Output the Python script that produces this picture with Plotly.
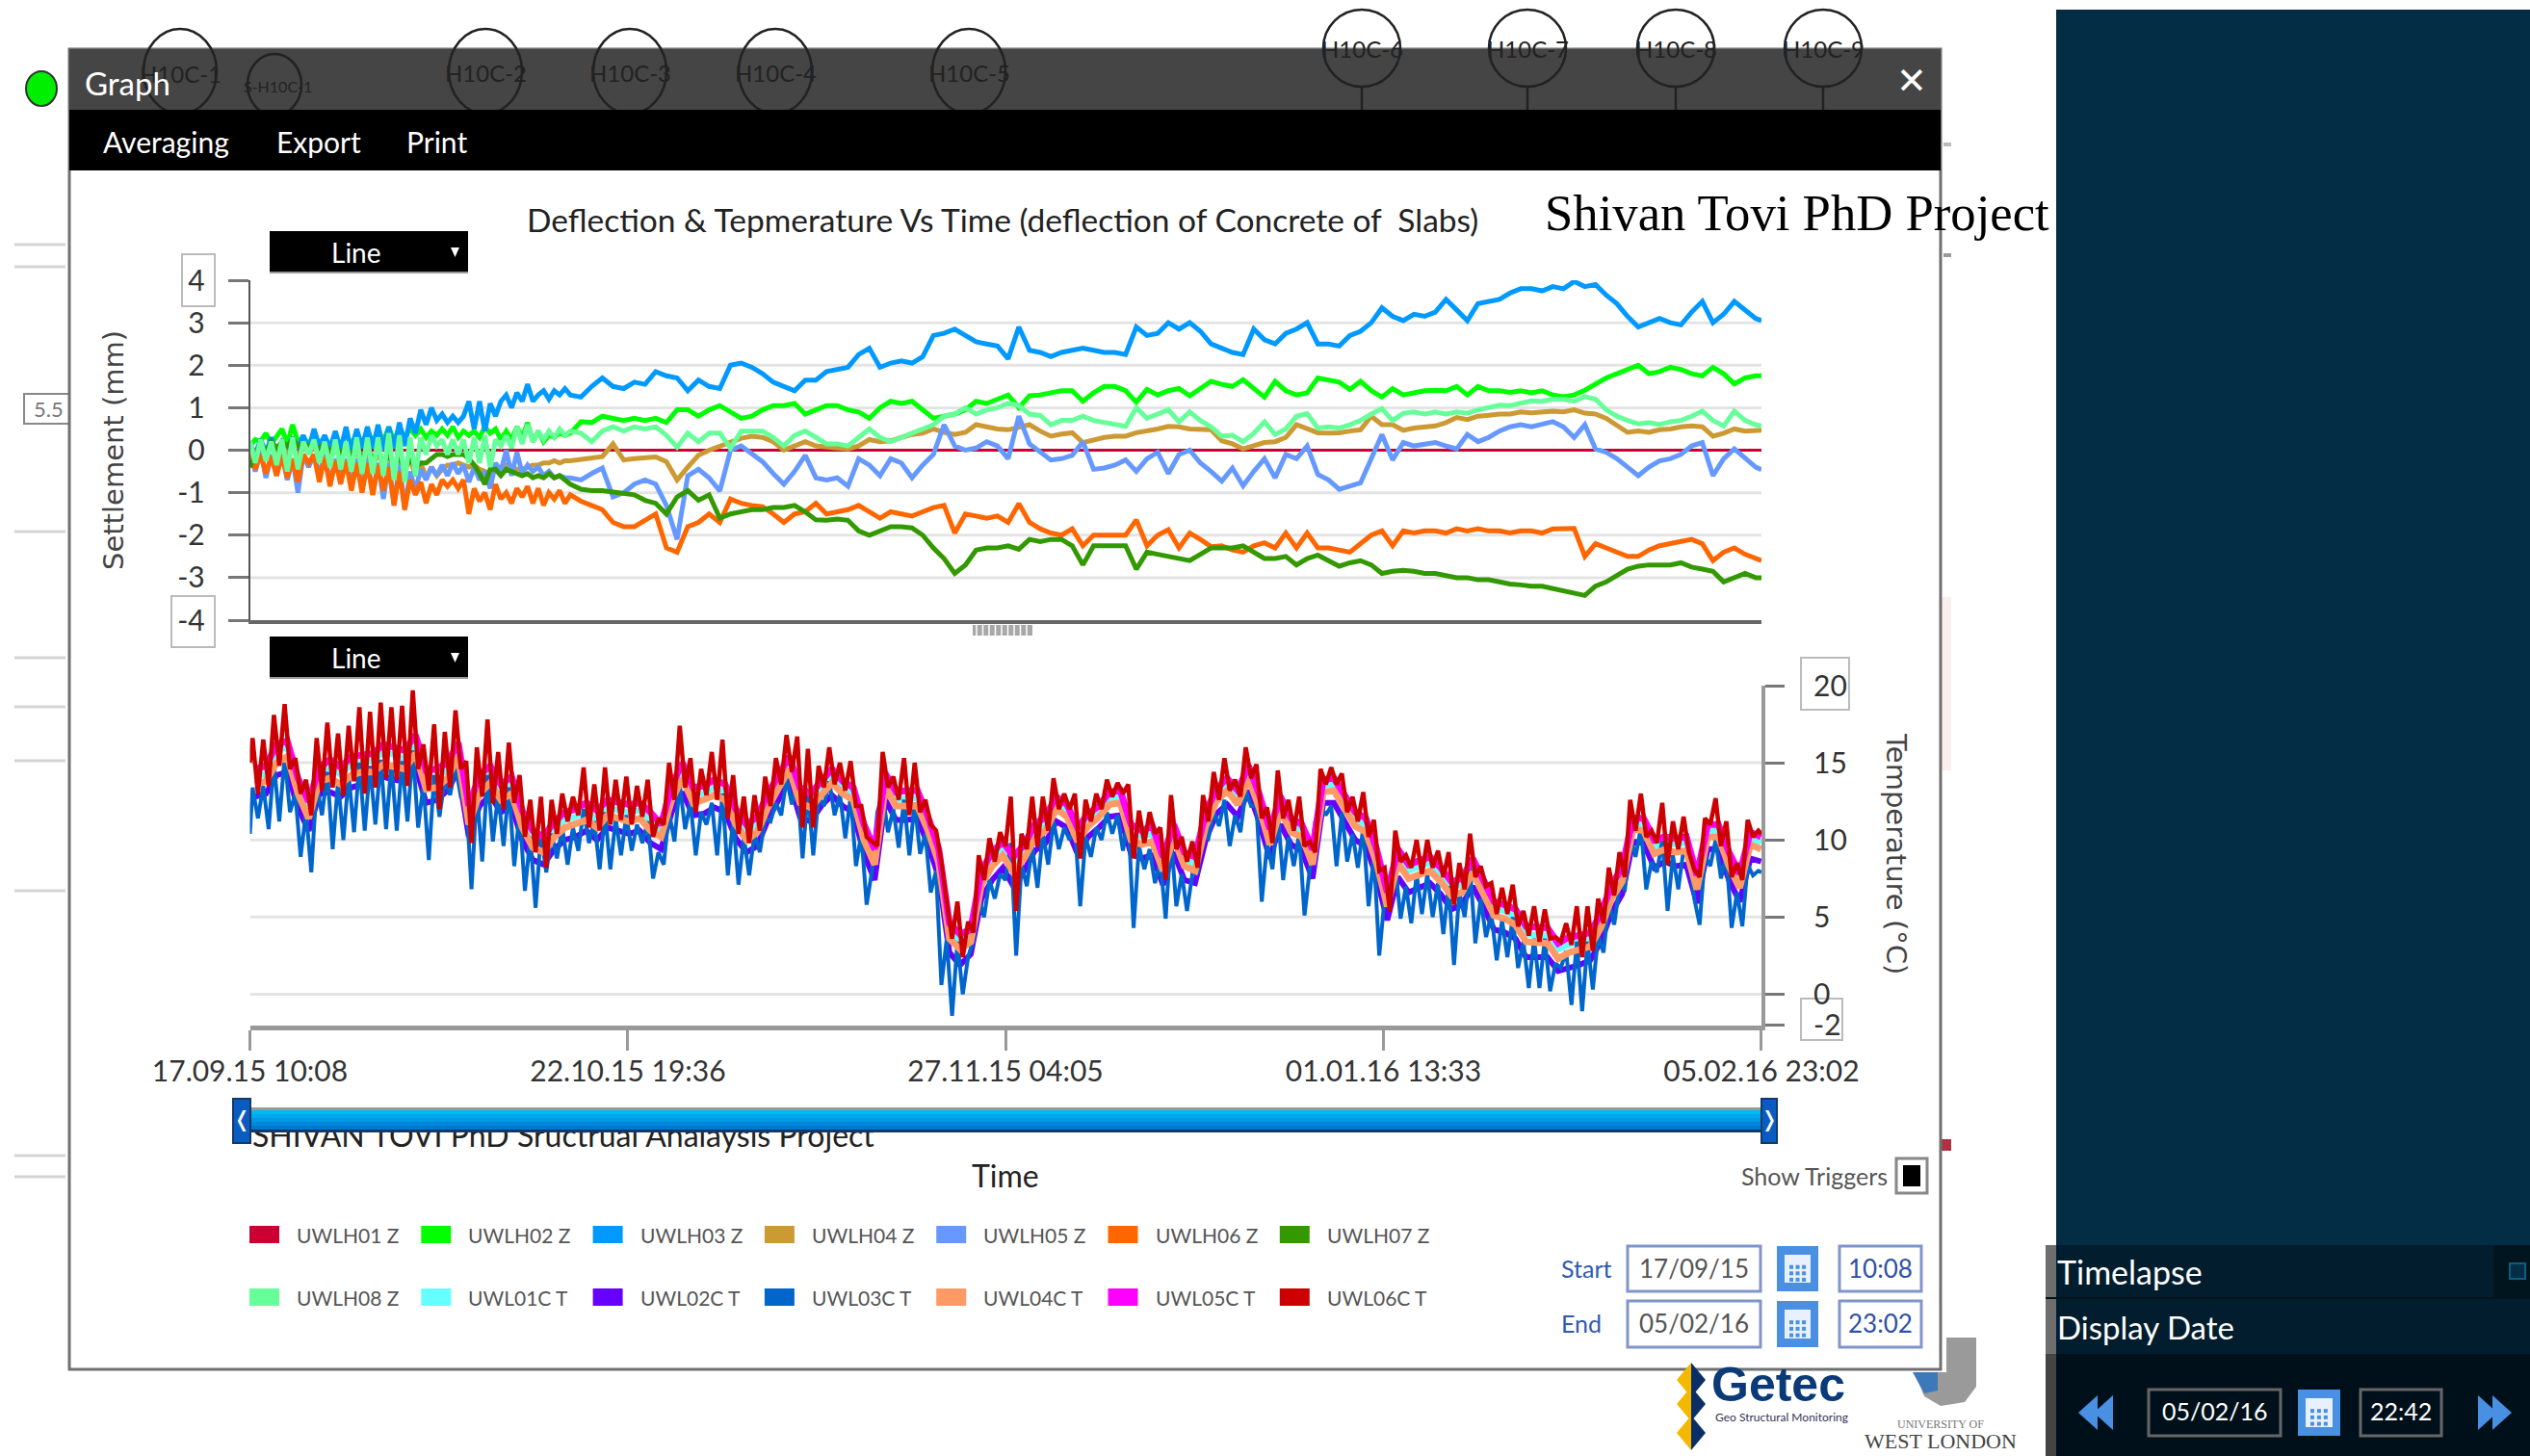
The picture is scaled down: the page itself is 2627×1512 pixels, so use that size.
import pandas as pd
import plotly.graph_objects as go

W, H = 2627, 1512
UI = "Lato, Open Sans, sans-serif"
WIDE = "DejaVu Sans, sans-serif"
SERIF = "Liberation Serif, serif"

start_time = pd.Timestamp("2015-09-17 10:08")
end_days = 141.54

x_tick_labels = ["17.09.15 10:08", "22.10.15 19:36", "27.11.15 04:05", "01.01.16 13:33", "05.02.16 23:02"]
settle_ticks = [-4, -3, -2, -1, 0, 1, 2, 3, 4]
settle_labels = ["-4", "-3", "-2", "-1", "0", "1", "2", "3", "4"]
settle_grid = [-3, -2, -1, 1, 2, 3]
temp_ticks = [-2, 0, 5, 10, 15, 20]
temp_labels = ["-2", "0", "5", "10", "15", "20"]
temp_grid = [0, 5, 10, 15]

names = ["UWLH01 Z", "UWLH02 Z", "UWLH03 Z", "UWLH04 Z", "UWLH05 Z", "UWLH06 Z", "UWLH07 Z",
         "UWLH08 Z", "UWL01C T", "UWL02C T", "UWL03C T", "UWL04C T", "UWL05C T", "UWL06C T"]
colors = ["#cc0033", "#00ff00", "#0099ff", "#cc9933", "#6699ff", "#ff6600", "#339900",
          "#66ff99", "#66ffff", "#6600ff", "#0066cc", "#ff9966", "#ff00ff", "#cc0000"]

# Settlement sampling: half days up to day 30, then one reading per day
top_days = [i * 0.5 for i in range(61)] + list(range(31, 142)) + [end_days]

uwlh01 = [0.0, 0.0]
uwlh01_days = [0, end_days]

uwlh02 = [
    0.1, 0.25, 0.2, 0.4, 0.15, 0.35, 0.5, 0.15, 0.6, 0.2,
    0.3, 0.15, 0.35, 0.1, 0.25, 0.05, 0.35, 0.1, 0.4, 0.1,
    0.45, 0.1, 0.5, 0.15, 0.5, 0.2, 0.55, 0.2, 0.55, 0.3,
    0.5, 0.35, 0.5, 0.3, 0.45, 0.35, 0.5, 0.35, 0.55, 0.3,
    0.45, 0.35, 0.45, 0.3, 0.55, 0.4, 0.5, 0.25, 0.45, 0.25,
    0.55, 0.3, 0.65, 0.2, 0.45, 0.2, 0.35, 0.3, 0.4, 0.35,
    0.4,
    .67, .65, .8, .75, .7, .75, .7, .75, .65, .95,
    .95, .8, .95, 1.05, .9, .75, .8, .95, 1.05, 1.05,
    1.1, .85, .95, 1.05, 1.05, .95, .9, .75, 1.0, 1.15,
    1.1, 1.15, .95, .75, .8, .85, .95, 1.15, 1.1, 1.2,
    1.3, 1.0, 1.28, 1.3, 1.35, 1.4, 1.4, 1.15, 1.35, 1.5,
    1.5, 1.4, 1.13, 1.43, 1.3, 1.4, 1.45, 1.28, 1.45, 1.62,
    1.55, 1.5, 1.66, 1.45, 1.25, 1.62, 1.4, 1.3, 1.35, 1.7,
    1.65, 1.6, 1.43, 1.62, 1.4, 1.25, 1.45, 1.3, 1.35, 1.4,
    1.41, 1.4, 1.5, 1.3, 1.5, 1.4, 1.4, 1.36, 1.4, 1.35,
    1.4, 1.3, 1.26, 1.3, 1.41, 1.55, 1.7, 1.8, 1.9, 2.0,
    1.8, 1.85, 1.95, 1.9, 1.8, 1.75, 1.95, 1.8, 1.56, 1.7,
    1.75, 1.75]
uwlh03 = [
    0.15, -0.1, 0.25, -0.05, 0.3, -0.1, 0.2, 0.05, 0.3, 0.05,
    0.35, 0.0, 0.5, 0.1, 0.35, 0.05, 0.45, 0.0, 0.55, -0.05,
    0.5, 0.05, 0.55, 0.05, 0.6, 0.0, 0.55, 0.05, 0.65, 0.1,
    0.75, 0.4, 0.95, 0.6, 1.0, 0.7, 0.85, 0.65, 0.8, 0.65,
    0.8, 1.15, 0.5, 1.15, 0.45, 1.1, 0.8, 1.15, 1.3, 1.0,
    1.35, 1.15, 1.55, 1.15, 1.3, 1.4, 1.2, 1.4, 1.3, 1.45,
    1.3,
    1.25, 1.5, 1.7, 1.5, 1.45, 1.6, 1.55, 1.85, 1.75, 1.7,
    1.4, 1.65, 1.5, 1.45, 2.0, 2.05, 1.95, 1.8, 1.6, 1.5,
    1.4, 1.65, 1.65, 1.85, 1.9, 1.95, 2.25, 2.4, 1.95, 2.05,
    2.1, 2.05, 2.2, 2.7, 2.75, 2.85, 2.7, 2.55, 2.5, 2.45,
    2.15, 2.9, 2.35, 2.3, 2.2, 2.3, 2.35, 2.4, 2.35, 2.3,
    2.3, 2.25, 2.9, 2.7, 2.75, 3.0, 2.85, 3.0, 2.8, 2.5,
    2.4, 2.3, 2.25, 2.85, 2.6, 2.5, 2.75, 2.85, 3.0, 2.5,
    2.5, 2.45, 2.7, 2.8, 3.0, 3.35, 3.15, 3.05, 3.2, 3.15,
    3.25, 3.55, 3.3, 3.05, 3.45, 3.5, 3.55, 3.7, 3.8, 3.8,
    3.75, 3.85, 3.8, 3.97, 3.85, 3.9, 3.65, 3.45, 3.15, 2.9,
    3.0, 3.1, 3.0, 2.95, 3.25, 3.5, 3.0, 3.2, 3.5, 3.3,
    3.1, 3.05]
uwlh04 = [
    0.1, -0.1, 0.1, -0.15, 0.15, -0.05, 0.1, -0.1, 0.05, -0.15,
    0.1, -0.05, 0.05, -0.1, 0.05, -0.2, 0.05, -0.2, 0.0, -0.25,
    0.0, -0.35, -0.05, -0.4, -0.05, -0.4, -0.1, -0.5, -0.1, -0.5,
    -0.2, -0.6, -0.3, -0.65, -0.4, -0.6, -0.45, -0.35, -0.35, -0.3,
    -0.35, -0.4, -0.35, -0.45, -0.5, -0.6, -0.4, -0.4, -0.35, -0.4,
    -0.45, -0.45, -0.4, -0.35, -0.35, -0.3, -0.3, -0.25, -0.3, -0.25,
    -0.25,
    -.22, -.2, -.15, .15, -.23, -.2, -.18, -.16, -.27, -.7,
    -.4, -.12, 0, .1, .2, .28, .33, .3, .2, .0,
    .1, .2, .1, .07, .05, .03, .1, .25, .2, .22,
    .3, .37, .4, .5, .42, .37, .42, .6, .55, .5,
    .48, .55, .6, .45, .33, .38, .41, .18, .25, .3,
    .33, .33, .41, .45, .5, .56, .55, .5, .48, .48,
    .22, .15, .03, .1, .18, .2, .3, .6, .5, .41,
    .4, .41, .45, .48, .8, .6, .6, .47, .52, .55,
    .57, .65, .77, .72, .8, .82, .85, .85, .9, .88,
    .9, .92, .9, .95, .87, .85, .75, .6, .42, .45,
    .42, .48, .5, .55, .57, .55, .33, .4, .5, .45,
    .45, .47]
uwlh05 = [
    0.0, -0.5, 0.0, -0.65, -0.1, -0.6, -0.1, -0.7, -0.2, -1.0,
    -0.1, -0.4, -0.1, -0.6, -0.1, -0.8, -0.2, -0.7, -0.2, -0.85,
    -0.2, -0.95, -0.2, -1.05, -0.3, -1.15, -0.3, -1.3, -0.3, -1.4,
    -0.5, -0.95, -0.45, -0.7, -0.4, -0.6, -0.35, -0.6, -0.3, -0.55,
    -0.35, -0.75, -0.4, -0.7, -0.5, -0.9, -0.3, -0.5, 0.0, -0.6,
    -0.05, -0.55, -0.35, -0.5, -0.4, -0.6, -0.5, -0.65, -0.6, -0.65,
    -0.65,
    -.7, -.55, -.42, -1.1, -1.0, -.8, -.7, -.8, -1.3, -2.1,
    -.6, -.45, -.65, -.96, .0, .1, -.1, -.27, -.55, -.8,
    -.5, -.12, -.65, -.7, -.65, -.85, -.2, -.35, -.6, -.2,
    -.3, -.65, -.35, -.1, .6, .1, .0, .05, .2, .1,
    -.2, .8, .15, -.05, -.23, -.2, -.12, .2, -.45, -.42,
    -.35, -.23, -.5, -.2, -.05, -.55, -.1, 0, -.3, -.5,
    -.73, -.42, -.84, -.5, -.2, -.65, -.1, -.2, .1, -.57,
    -.7, -.92, -.85, -.77, -.2, .37, -.23, .18, .1, .15,
    .18, .1, .03, .37, .2, .3, .45, .55, .6, .55,
    .6, .67, .55, .3, .6, .03, -.05, -.2, -.4, -.6,
    -.4, -.25, -.2, -.1, .1, .18, -.6, -.2, .03, -.2,
    -.4, -.46]
uwlh06 = [
    0.0, -0.45, -0.1, -0.55, -0.15, -0.6, -0.1, -0.65, -0.2, -0.75,
    -0.1, -0.3, -0.1, -0.75, -0.15, -0.85, -0.25, -0.8, -0.25, -0.95,
    -0.3, -1.0, -0.3, -1.05, -0.35, -0.95, -0.4, -1.3, -0.5, -1.4,
    -0.7, -1.05, -0.75, -1.25, -0.8, -1.05, -0.7, -0.85, -0.7, -0.9,
    -0.7, -1.5, -0.9, -1.2, -1.0, -1.4, -0.8, -1.15, -1.0, -1.25,
    -0.9, -1.1, -0.85, -1.25, -0.9, -1.3, -1.0, -1.15, -0.95, -1.25,
    -1.05,
    -1.2, -1.3, -1.4, -1.7, -1.8, -1.8, -1.65, -1.5, -2.3, -2.4,
    -1.8, -1.7, -1.5, -1.7, -1.15, -1.25, -1.3, -1.33, -1.5, -1.7,
    -1.5, -1.45, -1.25, -1.5, -1.45, -1.4, -1.3, -1.45, -1.6, -1.45,
    -1.5, -1.55, -1.45, -1.35, -1.3, -1.95, -1.5, -1.55, -1.6, -1.55,
    -1.7, -1.26, -1.7, -1.85, -1.95, -2.0, -1.85, -2.25, -2.0, -2.0,
    -2.0, -2.0, -1.64, -2.25, -2.0, -1.87, -2.3, -1.95, -2.1, -2.27,
    -2.25, -2.35, -2.4, -2.25, -2.18, -2.3, -1.95, -2.3, -1.95, -2.3,
    -2.3, -2.35, -2.4, -2.2, -2.0, -1.9, -2.25, -1.9, -1.95, -1.9,
    -1.9, -1.95, -1.85, -1.9, -1.85, -1.9, -1.9, -1.95, -1.9, -1.9,
    -1.95, -1.85, -1.85, -1.84, -2.5, -2.2, -2.3, -2.4, -2.5, -2.5,
    -2.35, -2.25, -2.2, -2.15, -2.1, -2.2, -2.6, -2.4, -2.3, -2.45,
    -2.55, -2.6]
uwlh07 = [
    -0.4, -0.1, 0.15, -0.05, 0.2, 0.05, 0.2, 0.1, 0.25, 0.1,
    0.15, 0.1, 0.1, 0.05, 0.15, -0.05, 0.15, -0.1, 0.1, -0.15,
    0.1, -0.2, 0.05, -0.2, 0.0, -0.3, -0.1, -0.4, -0.15, -0.45,
    -0.2, -0.4, -0.3, -0.3, -0.2, -0.1, -0.1, -0.15, -0.1, -0.1,
    -0.1, -0.2, -0.35, -0.55, -0.8, -0.45, -0.45, -0.6, -0.45, -0.5,
    -0.55, -0.6, -0.55, -0.65, -0.6, -0.65, -0.55, -0.65, -0.6, -0.7,
    -0.8,
    -.92, -.95, -.95, -.98, -1.0, -1.05, -1.18, -1.25, -1.5, -1.1,
    -.95, -1.18, -1.05, -1.6, -1.5, -1.45, -1.4, -1.4, -1.35, -1.35,
    -1.3, -1.45, -1.64, -1.65, -1.62, -1.65, -1.9, -2.0, -1.9, -1.8,
    -1.8, -1.83, -2.0, -2.3, -2.55, -2.9, -2.7, -2.35, -2.3, -2.3,
    -2.25, -2.33, -2.1, -2.15, -2.1, -2.1, -2.25, -2.7, -2.25, -2.25,
    -2.25, -2.25, -2.8, -2.4, -2.45, -2.5, -2.55, -2.6, -2.45, -2.3,
    -2.3, -2.3, -2.25, -2.4, -2.55, -2.55, -2.5, -2.7, -2.55, -2.47,
    -2.6, -2.73, -2.65, -2.6, -2.7, -2.9, -2.85, -2.83, -2.85, -2.9,
    -2.9, -2.95, -3.0, -3.0, -3.05, -3.05, -3.1, -3.15, -3.17, -3.2,
    -3.2, -3.25, -3.3, -3.35, -3.42, -3.2, -3.1, -2.95, -2.8, -2.73,
    -2.7, -2.7, -2.7, -2.65, -2.75, -2.8, -2.85, -3.1, -3.0, -2.9,
    -3.0, -3.0]
uwlh08 = [
    0.2, -0.3, 0.25, -0.25, 0.2, -0.35, 0.25, -0.5, 0.3, -0.45,
    0.2, -0.1, 0.25, -0.3, 0.2, -0.4, 0.25, -0.45, 0.2, -0.5,
    0.3, -0.55, 0.3, -0.55, 0.3, -0.6, 0.4, -0.7, 0.35, -0.75,
    0.3, -0.6, 0.3, -0.1, 0.35, 0.1, 0.25, -0.1, 0.25, -0.1,
    0.25, -0.3, 0.3, -0.3, 0.35, -0.4, 0.25, 0.1, 0.35, 0.05,
    0.55, 0.15, 0.6, 0.2, 0.45, 0.25, 0.45, 0.3, 0.5, 0.35,
    0.45,
    .4, .2, .45, .55, .45, .55, .5, .55, .35, .07,
    .4, .2, .4, .4, .05, .45, .45, .45, .3, .1,
    .35, .45, .3, .15, .15, .1, .3, .5, .3, .2,
    .3, .4, .48, .6, .8, .85, 1.0, .85, .95, 1.0,
    1.1, 1.05, .85, .82, .6, .7, .7, .8, .7, .65,
    .6, .56, 1.0, .75, .85, .95, .67, .9, .7, .55,
    .33, .35, .2, .4, .67, .37, .5, .8, .86, .52,
    .55, .52, .6, .7, .85, .98, .7, .87, .9, .85,
    .9, .85, .9, .87, .95, 1.0, 1.06, 1.05, 1.1, 1.16,
    1.15, 1.2, 1.2, 1.15, 1.26, 1.2, .95, .8, .7, .62,
    .65, .6, .67, .7, .8, .92, .7, .57, .92, .7,
    .6, .57]

# Temperature: extremes sampled twice a day, middle sensors once a day
temp_days_half = [0] + [0.25 + 0.5 * i for i in range(283)] + [end_days]
temp_days_full = [d + 0.5 for d in range(142)]

uwl06c = [
    15.0,
    16.6, 13.0, 16.5, 13.5, 18.1, 14.8, 18.8, 14.6, 15.3, 13.0, 13.9, 11.6, 16.6, 13.2, 17.6, 13.4, 16.9, 12.9, 17.4, 13.8,
    18.6, 13.0, 18.3, 13.4, 18.9, 14.0, 18.6, 13.9, 18.7, 13.5, 19.7, 14.6, 16.2, 13.2, 17.5, 12.0, 17.0, 13.4, 18.4, 14.6,
    15.1, 9.8, 16.0, 12.8, 17.8, 12.4, 15.7, 12.0, 16.3, 12.4, 14.2, 10.2, 12.6, 9.2, 12.8, 8.2, 12.6, 10.4, 13.0, 11.2,
    12.8, 11.6, 14.7, 10.8, 13.6, 10.6, 14.7, 11.0, 13.9, 11.3, 14.1, 11.0, 13.5, 11.5, 13.9, 10.2, 11.4, 11.0, 15.0, 12.6,
    17.4, 13.4, 15.3, 11.8, 14.6, 12.9, 15.7, 12.6, 16.5, 11.4, 14.2, 10.4, 12.8, 9.8, 12.9, 10.6, 14.1, 12.2, 15.3, 13.6,
    16.8, 14.4, 16.7, 10.8, 15.9, 10.8, 14.8, 13.4, 16.0, 13.6, 15.0, 13.2, 15.1, 12.2, 12.2, 10.2, 9.9, 9.6, 15.7, 13.4,
    14.1, 12.6, 15.3, 11.6, 15.0, 11.8, 12.6, 11.0, 10.6, 8.6, 6.0, 3.6, 6.0, 2.4, 4.7, 4.0, 9.0, 7.4, 10.1, 8.6,
    10.5, 9.6, 12.8, 5.4, 10.4, 9.4, 12.8, 9.6, 12.8, 10.6, 14.0, 12.0, 13.0, 12.0, 13.0, 8.8, 12.6, 11.2, 13.0, 12.0,
    13.9, 12.8, 13.7, 13.0, 13.6, 8.8, 11.9, 9.8, 11.8, 10.4, 10.8, 7.4, 12.9, 9.4, 10.2, 8.6, 9.9, 8.2, 12.9, 11.2,
    14.4, 12.6, 15.3, 13.2, 13.9, 12.8, 16.0, 14.0, 14.9, 11.4, 12.1, 9.8, 14.5, 11.4, 12.6, 10.6, 12.8, 9.6, 9.9, 9.2,
    14.6, 13.6, 14.7, 13.6, 14.3, 11.8, 12.8, 11.2, 13.1, 10.2, 11.3, 8.0, 8.2, 5.4, 10.6, 8.6, 9.0, 8.2, 10.0, 7.8,
    10.0, 8.2, 9.3, 7.6, 9.2, 5.8, 8.5, 6.8, 10.4, 7.6, 8.3, 7.0, 7.2, 5.2, 6.9, 5.2, 7.1, 4.4, 5.4, 3.8,
    5.7, 3.4, 5.5, 3.6, 3.7, 3.4, 4.6, 3.2, 5.7, 2.4, 5.7, 2.8, 6.2, 4.6, 8.2, 6.4, 9.2, 7.6, 12.6, 10.6,
    13.0, 10.2, 10.6, 9.8, 12.4, 8.4, 11.2, 9.4, 11.5, 9.2, 8.1, 7.6, 11.4, 11.0, 12.7, 9.6, 11.2, 7.6, 8.5, 7.4,
    11.3, 10.2, 10.6,
    10.4]
uwl03c = [
    10.4,
    13.4, 11.4, 13.5, 10.7, 15.0, 11.2, 15.4, 11.8, 13.0, 8.9, 11.8, 7.9, 13.6, 11.6, 14.4, 9.4, 13.8, 10.0, 14.2, 10.5,
    15.0, 10.6, 14.8, 11.0, 15.2, 10.7, 15.0, 10.6, 15.1, 11.2, 15.8, 10.8, 13.6, 8.7, 14.2, 11.5, 14.0, 12.9, 14.8, 12.8,
    12.8, 6.8, 13.2, 8.6, 14.2, 9.9, 13.0, 9.6, 13.4, 8.3, 11.8, 6.7, 10.2, 5.6, 10.4, 7.9, 10.4, 8.8, 10.8, 8.4,
    10.8, 9.3, 12.0, 9.8, 11.2, 8.1, 11.8, 8.1, 11.4, 9.0, 11.6, 9.3, 11.0, 9.8, 11.2, 7.5, 9.2, 8.4, 11.8, 9.9,
    13.6, 10.7, 12.4, 9.0, 11.8, 11.0, 12.4, 9.0, 13.0, 7.7, 11.4, 7.1, 10.2, 7.7, 10.4, 9.2, 11.4, 11.2, 12.4, 11.6,
    14.0, 12.3, 13.8, 8.8, 13.2, 9.0, 12.8, 12.2, 13.8, 11.6, 13.0, 10.1, 12.8, 8.3, 10.4, 5.8, 8.0, 11.8, 13.0, 10.5,
    12.0, 9.5, 12.6, 9.0, 12.4, 9.1, 10.4, 6.6, 8.0, 0.6, 3.6, -1.4, 3.4, 0.0, 2.4, 3.5, 6.2, 5.0, 7.4, 6.2,
    7.8, 7.4, 9.8, 2.5, 8.4, 7.0, 9.6, 6.9, 10.4, 8.4, 11.2, 9.4, 10.8, 10.0, 10.8, 5.7, 10.2, 8.9, 10.8, 10.0,
    11.8, 10.4, 11.6, 9.3, 11.4, 4.3, 9.6, 8.1, 9.4, 7.2, 8.6, 4.9, 10.2, 5.7, 7.8, 5.4, 7.8, 7.9, 10.4, 10.1,
    11.8, 10.9, 12.6, 9.6, 11.6, 10.5, 13.2, 12.2, 12.2, 6.0, 9.8, 8.1, 11.8, 7.4, 10.2, 8.3, 10.4, 5.1, 8.2, 11.2,
    12.2, 11.6, 12.2, 8.3, 11.8, 8.6, 10.4, 8.2, 10.8, 5.7, 9.0, 2.5, 6.2, 6.4, 8.4, 4.9, 7.0, 4.6, 7.8, 5.2,
    7.8, 5.0, 7.2, 3.9, 7.0, 1.9, 6.6, 5.0, 8.2, 3.3, 6.2, 3.7, 5.2, 2.2, 4.8, 2.4, 5.0, 1.7, 3.4, 0.4,
    3.6, 0.4, 3.6, 0.2, 2.0, 1.7, 2.8, -0.7, 3.4, -1.1, 3.4, 0.3, 3.8, 2.7, 6.0, 4.5, 7.0, 6.8, 10.2, 8.9,
    10.8, 6.8, 8.6, 7.9, 10.0, 5.4, 9.0, 6.8, 9.4, 8.9, 6.2, 4.5, 9.0, 8.3, 10.0, 7.5, 9.0, 4.3, 6.6, 4.4,
    8.4, 7.7, 8.0,
    7.9]
uwl05c = [
    14.6, 14.8, 16.2, 16.4, 14.0, 12.5, 14.7, 15.2, 14.7, 15.4,
    15.5, 15.6, 16.2, 16.0, 15.8, 16.8, 14.5, 14.6, 15.0, 16.3,
    12.2, 14.2, 14.8, 13.6, 14.1, 11.9, 10.6, 10.2, 11.2, 11.8,
    12.0, 12.4, 11.9, 12.6, 12.4, 12.3, 12.4, 11.8, 11.0, 13.5,
    15.0, 13.4, 13.5, 13.9, 13.6, 12.0, 11.0, 11.5, 13.0, 14.2,
    15.4, 13.4, 13.0, 13.8, 14.6, 13.8, 13.4, 11.0, 9.4, 14.3,
    13.1, 13.2, 13.2, 11.5, 9.4, 4.6, 3.9, 4.2, 8.0, 9.2,
    9.9, 8.9, 9.7, 11.0, 11.5, 12.8, 12.3, 10.8, 11.7, 12.2,
    13.1, 13.2, 11.0, 10.6, 10.9, 8.9, 11.0, 9.2, 8.9, 11.8,
    13.3, 14.0, 13.2, 14.8, 13.0, 10.7, 12.8, 11.4, 11.0, 9.4,
    13.9, 14.0, 12.9, 11.8, 11.4, 9.4, 6.6, 9.4, 8.4, 8.7,
    8.9, 8.2, 7.3, 7.5, 8.8, 7.4, 6.0, 5.8, 5.5, 4.4,
    4.3, 4.3, 3.3, 3.7, 3.8, 4.0, 5.2, 7.1, 8.2, 11.4,
    11.4, 10.0, 10.2, 10.1, 10.2, 7.7, 11.0, 11.0, 9.2, 7.8,
    10.5, 10.2]
uwl04c = [
    13.6, 13.8, 15.0, 15.4, 13.0, 11.4, 13.8, 14.0, 13.6, 14.2,
    14.4, 14.4, 14.9, 14.8, 14.6, 15.6, 13.3, 13.4, 14.0, 15.4,
    11.0, 13.0, 13.7, 12.6, 13.0, 10.8, 9.5, 9.2, 10.2, 10.8,
    11.0, 11.3, 10.8, 11.6, 11.4, 11.2, 11.4, 10.6, 10.2, 12.6,
    14.0, 12.4, 12.6, 12.9, 12.6, 11.0, 10.0, 10.5, 12.1, 13.3,
    14.6, 12.4, 12.1, 12.9, 13.7, 13.0, 12.6, 10.0, 8.4, 13.4,
    12.2, 12.2, 12.2, 10.6, 8.5, 3.6, 2.9, 3.4, 7.1, 8.3,
    9.0, 7.9, 8.8, 10.1, 10.6, 12.0, 11.5, 9.9, 10.9, 11.5,
    12.3, 12.4, 10.0, 9.7, 9.9, 8.0, 10.1, 8.3, 8.0, 10.9,
    12.5, 13.2, 12.3, 14.0, 12.1, 9.7, 11.9, 10.5, 10.2, 8.4,
    13.1, 13.2, 12.0, 10.9, 10.5, 8.5, 5.7, 8.5, 7.5, 7.8,
    8.0, 7.3, 6.4, 6.6, 7.9, 6.5, 5.1, 4.9, 4.5, 3.4,
    3.3, 3.3, 2.3, 2.7, 2.9, 3.1, 4.3, 6.2, 7.3, 10.7,
    10.6, 9.1, 9.4, 9.2, 9.3, 6.8, 10.2, 10.2, 8.3, 6.9,
    9.7, 9.4]
uwl02c = [
    12.8, 13.0, 14.2, 14.4, 12.1, 10.6, 13.0, 13.1, 12.8, 13.4,
    13.6, 13.6, 14.1, 13.9, 13.8, 14.8, 12.4, 12.6, 13.2, 14.5,
    10.2, 12.2, 12.9, 11.8, 12.2, 10.0, 8.7, 8.4, 9.4, 10.0,
    10.2, 10.6, 10.0, 10.8, 10.6, 10.4, 10.6, 9.8, 9.4, 11.8,
    13.1, 11.6, 11.7, 12.1, 11.8, 10.1, 9.2, 9.6, 11.3, 12.6,
    13.9, 11.5, 11.2, 12.2, 12.9, 12.2, 11.8, 9.1, 7.4, 12.6,
    11.3, 11.3, 11.4, 9.7, 7.6, 2.7, 1.9, 2.6, 6.2, 7.4,
    8.2, 7.0, 8.0, 9.3, 9.8, 11.2, 10.8, 9.1, 10.2, 10.8,
    11.5, 11.6, 9.1, 8.8, 9.0, 7.1, 9.2, 7.4, 7.2, 10.0,
    11.7, 12.3, 11.5, 13.2, 11.2, 8.8, 11.0, 9.7, 9.3, 7.5,
    12.4, 12.4, 11.1, 10.0, 9.6, 7.6, 4.8, 7.6, 6.6, 6.9,
    7.2, 6.5, 5.5, 5.8, 7.0, 5.7, 4.2, 4.0, 3.6, 2.4,
    2.4, 2.4, 1.5, 1.7, 1.9, 2.2, 3.4, 5.3, 6.5, 9.9,
    9.8, 8.2, 8.6, 8.3, 8.4, 5.9, 9.4, 9.4, 7.4, 6.0,
    8.8, 8.6]
uwl01c = [
    14.0, 14.3, 15.8, 16.0, 13.5, 12.0, 14.3, 14.7, 14.2, 14.9,
    15.0, 15.1, 15.7, 15.5, 15.2, 16.2, 14.0, 14.1, 14.5, 15.8,
    11.6, 13.6, 14.3, 13.0, 13.6, 11.3, 10.0, 9.7, 10.7, 11.3,
    11.5, 11.9, 11.3, 12.1, 11.9, 11.8, 11.9, 11.2, 10.6, 13.0,
    14.5, 12.9, 13.0, 13.4, 13.1, 11.5, 10.5, 11.0, 12.6, 13.7,
    15.0, 12.9, 12.5, 13.3, 14.1, 13.4, 13.0, 10.5, 8.9, 13.8,
    12.6, 12.7, 12.7, 11.1, 8.9, 4.1, 3.4, 3.8, 7.5, 8.8,
    9.4, 8.4, 9.2, 10.5, 11.0, 12.4, 11.9, 10.3, 11.3, 11.9,
    12.7, 12.8, 10.5, 10.2, 10.4, 8.4, 10.6, 8.8, 8.4, 11.3,
    12.9, 13.6, 12.7, 14.4, 12.5, 10.2, 12.3, 11.0, 10.6, 8.9,
    13.5, 13.6, 12.5, 11.3, 11.0, 8.9, 6.1, 8.9, 8.0, 8.3,
    8.5, 7.7, 6.9, 7.1, 8.3, 6.9, 5.5, 5.4, 5.0, 3.9,
    3.8, 3.8, 2.9, 3.2, 3.4, 3.6, 4.8, 6.7, 7.8, 11.0,
    11.0, 9.5, 9.8, 9.7, 9.8, 7.2, 10.6, 10.6, 8.8, 7.4,
    10.1, 9.8]


def stamp(days):
    return start_time + pd.to_timedelta(days, unit="D")


shapes = []
notes = []


def rect(x0, y0, x1, y1, fill=None, line=None, lw=0, layer="below"):
    shapes.append(dict(type="rect", xref="x", yref="y", x0=x0, y0=y0, x1=x1, y1=y1,
                       fillcolor=fill, line=dict(color=line, width=lw), layer=layer))


def ellipse(cx, cy, rx, ry, fill=None, line="#222222", lw=2.5):
    shapes.append(dict(type="circle", xref="x", yref="y", x0=cx - rx, y0=cy - ry, x1=cx + rx, y1=cy + ry,
                       fillcolor=fill, line=dict(color=line, width=lw), layer="below"))


def poly(points, fill, layer="below"):
    path = "M " + " L ".join(f"{x} {y}" for x, y in points) + " Z"
    shapes.append(dict(type="path", xref="x", yref="y", path=path, fillcolor=fill,
                       line=dict(width=0), layer=layer))


def seg(x0, y0, x1, y1, color, lw=2):
    shapes.append(dict(type="line", xref="x", yref="y", x0=x0, y0=y0, x1=x1, y1=y1,
                       line=dict(color=color, width=lw), layer="below"))


def label(x, y, text, size, color="#333333", anchor="center", family=UI, angle=0):
    notes.append(dict(xref="x", yref="y", x=x, y=y, text=text, showarrow=False, xanchor=anchor,
                      yanchor="middle", textangle=angle, font=dict(family=family, size=size, color=color)))


def calendar(x0, y0, x1, y1):
    rect(x0, y0, x1, y1, fill="#4a90e2")
    rect(x0 + 8, y0 + 9, x1 - 8, y1 - 9, fill="#e8f0fb")
    for r in range(3):
        for c in range(3):
            px = x0 + 13 + c * (x1 - x0 - 26) / 2.6
            py = y0 + (y1 - y0) * 0.42 + r * (y1 - y0) * 0.14
            rect(px, py, px + 4, py + 4, fill="#4a90e2")


# page behind the graph window
for y in (254, 277, 552, 683, 734, 790, 925, 1200, 1222):
    seg(15, y, 68, y, "#d4d4d4", 3)
rect(25, 409, 72, 440, fill="#ffffff", line="#888888", lw=2)
label(50, 424, "5.5", 22, "#777777")
rect(2015, 620, 2026, 800, fill="#fdeeee")
rect(2015, 1183, 2026, 1195, fill="#b03040")
seg(2018, 150, 2026, 150, "#bbbbbb", 4)
seg(2018, 265, 2026, 265, "#999999", 4)

# graph window
rect(72, 51, 2015, 1422, fill="#ffffff", line="#707070", lw=3)
rect(72, 51, 2015, 114, fill="#454545")

# site drawing showing through the title bar
for cx in (187, 504, 654, 805, 1006):
    ellipse(cx, 74, 38, 44)
ellipse(285, 88, 28, 32)
for cx in (1414, 1586, 1740, 1893):
    ellipse(cx, 50, 40, 40)
    seg(cx, 90, cx, 114, "#222222", 2.5)
rect(72, 114, 2015, 177, fill="#000000")

for text, cx, cy in [("H10C-1", 187, 76), ("H10C-2", 504, 75), ("H10C-3", 654, 75), ("H10C-4", 805, 75),
                     ("H10C-5", 1006, 75), ("H10C-6", 1414, 50), ("H10C-7", 1586, 50), ("H10C-8", 1740, 50),
                     ("H10C-9", 1893, 50)]:
    label(cx, cy, text, 24, "#222222")
label(288, 89, "S-H10C-1", 16, "#222222")

ellipse(43, 92, 16, 18, fill="#00ee00", line="#333333", lw=2)
label(86, 86, "Graph", 33, "#ffffff", "left")
label(1985, 84, "✕", 38, "#ffffff", family="DejaVu Sans, sans-serif")
label(172, 147, "Averaging", 30, "#ffffff")
label(331, 147, "Export", 30, "#ffffff")
label(453, 147, "Print", 30, "#ffffff")

label(1041, 228, "Deflection &amp; Tepmerature Vs Time (deflection of Concrete of  Slabs)", 33.5, "#222222")
label(1602, 221, "Shivan Tovi PhD Project", 52.7, "#000000", "left", SERIF)

# dropdowns
for y0 in (240, 661):
    rect(280, y0, 486, y0 + 43, fill="#000000", line="#888888", lw=0)
    seg(280, y0 + 43, 486, y0 + 43, "#999999", 2)
    label(370, y0 + 22, "Line", 28, "#ffffff")
    poly([(468, y0 + 17), (477, y0 + 17), (472.5, y0 + 27)], "#ffffff")

# axis end boxes and texts
rect(189, 264, 223, 318, fill="#ffffff", line="#bbbbbb", lw=2)
rect(178, 619, 223, 672, fill="#ffffff", line="#bbbbbb", lw=2)
rect(1870, 683, 1920, 737, fill="#ffffff", line="#bbbbbb", lw=2)
rect(1870, 1037, 1913, 1080, fill="#ffffff", line="#bbbbbb", lw=2)
label(118, 468, "Settlement (mm)", 29, "#444444", family=WIDE, angle=-90)
label(1969, 886, "Temperature (°C)", 29, "#444444", family=WIDE, angle=90)
rect(1010, 649, 1072, 660, fill="#a8a8a8")
for i in range(9):
    seg(1014 + i * 6.5, 649, 1014 + i * 6.5, 660, "#ffffff", 1.5)
label(1044, 1220, "Time", 32, "#222222")

# grid lines, kept in the chart layers so the window fill does not cover them
for v in settle_grid:
    shapes.append(dict(type="line", xref="x2", yref="y2", x0=start_time, x1=stamp(end_days), y0=v, y1=v,
                       line=dict(color="#e4e4e4", width=3), layer="below"))
for v in temp_grid:
    shapes.append(dict(type="line", xref="x3", yref="y3", x0=start_time, x1=stamp(end_days), y0=v, y1=v,
                       line=dict(color="#e4e4e4", width=3), layer="below"))

# time slider, on top of the text that runs under it
rect(258, 1150, 1829, 1153, fill="#9a9a9a", layer="above")
for i, c in enumerate(["#00b8f4", "#00a8ec", "#0098e2", "#0088da", "#0078d2"]):
    rect(258, 1153 + i * 4, 1829, 1157 + i * 4, fill=c, layer="above")
rect(258, 1173, 1829, 1176, fill="#123a66", layer="above")
for x0, x1 in [(242, 260), (1829, 1845)]:
    rect(x0, 1141, x1, 1187, fill="#0b5cc0", line="#123a66", lw=2, layer="above")
label(251, 1163, "❬", 22, "#ffffff", family="DejaVu Sans, sans-serif")
label(1837, 1163, "❭", 22, "#ffffff", family="DejaVu Sans, sans-serif")

# legend
for i, (name, color) in enumerate(zip(names, colors)):
    col = i % 7
    cy = 1282 if i < 7 else 1347
    x0 = 259 + col * 178.3
    rect(x0, cy - 9, x0 + 31, cy + 9, fill=color)
    label(x0 + 47, cy, name, 21, "#555555", "left")

# show triggers and date range
label(1806, 1221, "Show Triggers", 25, "#555555", "left")
rect(1969, 1203, 2001, 1239, fill="#ffffff", line="#888888", lw=3)
rect(1976, 1210, 1994, 1232, fill="#000000")
for y0, y1, text, date, clock in [(1294, 1341, "Start", "17/09/15", "10:08"), (1351, 1399, "End", "05/02/16", "23:02")]:
    cy = (y0 + y1) / 2
    label(1619, cy - 1, text, 25, "#2f5bb0", "left")
    rect(1690, y0, 1828, y1, fill="#ffffff", line="#7f95cc", lw=3)
    label(1759, cy - 1, date, 26, "#555555")
    calendar(1845, y0, 1888, y1)
    rect(1910, y0, 1995, y1, fill="#ffffff", line="#7f95cc", lw=3)
    label(1952, cy - 1, clock, 26, "#2f50a8")

# logos under the window
for cy in (1433, 1458, 1488):
    poly([(1756, cy - 18), (1741, cy), (1756, cy + 18)], "#f5b800")
    poly([(1756, cy - 18), (1771, cy), (1756, cy + 18)], "#0a2f66")
label(1775, 1438, "<b>Getec</b>", 50, "#0a3a78", "left", "Liberation Sans, sans-serif")
label(1779, 1471, "Geo Structural Monitoring", 12, "#333355", "left")
poly([(2021, 1389), (2052, 1389), (2052, 1440), (2040, 1456), (2015, 1460), (1998, 1450), (1988, 1425),
      (2021, 1425)], "#9a9a9a")
poly([(1986, 1425), (2012, 1425), (2012, 1444), (1998, 1447)], "#3d78b8")
label(2015, 1479, "UNIVERSITY OF", 12, "#777777", family=SERIF)
label(2015, 1496, "WEST LONDON", 22, "#444444", family=SERIF)

# right hand panel
rect(2135, 10, 2627, 1293, fill="#032d45")
rect(2124, 1293, 2627, 1406, fill="#021e2e")
rect(2124, 1406, 2627, 1512, fill="#00101a")
rect(2124, 1293, 2135, 1406, fill="#6e6e6e")
rect(2124, 1406, 2135, 1512, fill="#444444")
seg(2124, 1348, 2627, 1348, "#01131f", 2)
rect(2589, 1293, 2627, 1348, fill="#01151f")
rect(2606, 1312, 2622, 1328, fill="#032d45", line="#0a5f7d", lw=2)
label(2134, 1320, "Timelapse", 34, "#ffffff", "left")
label(2134, 1378, "Display Date", 33, "#ffffff", "left")
poly([(2178, 1449), (2158, 1467), (2178, 1485)], "#4a90e2")
poly([(2194, 1449), (2174, 1467), (2194, 1485)], "#4a90e2")
poly([(2573, 1449), (2593, 1467), (2573, 1485)], "#4a90e2")
poly([(2588, 1449), (2608, 1467), (2588, 1485)], "#4a90e2")
rect(2231, 1443, 2368, 1491, fill="#00101a", line="#666666", lw=3)
label(2300, 1465, "05/02/16", 25, "#ffffff")
calendar(2386, 1443, 2430, 1491)
rect(2451, 1443, 2535, 1491, fill="#00101a", line="#666666", lw=3)
label(2493, 1465, "22:42", 25, "#ffffff")

fig = go.Figure()

# project caption partly hidden by the slider
fig.add_trace(go.Scatter(x=[262], y=[1183], mode="text", text=["SHIVAN TOVI PhD Sructrual Analaysis Project"],
                         textposition="middle right", xaxis="x", yaxis="y",
                         textfont=dict(family=UI, size=32, color="#222222")))

# settlement traces
fig.add_trace(go.Scatter(x=stamp(uwlh01_days), y=uwlh01, name=names[0], mode="lines", xaxis="x2", yaxis="y2",
                         line=dict(color=colors[0], width=3)))
settle_series = [uwlh02, uwlh03, uwlh04, uwlh05, uwlh06, uwlh07, uwlh08]
for name, color, values in zip(names[1:8], colors[1:8], settle_series):
    fig.add_trace(go.Scatter(x=stamp(top_days), y=values, name=name, mode="lines", xaxis="x2", yaxis="y2",
                             line=dict(color=color, width=5)))

# temperature traces
temp_series = [(uwl01c, temp_days_full, 6), (uwl02c, temp_days_full, 6), (uwl03c, temp_days_half, 4),
               (uwl04c, temp_days_full, 7), (uwl05c, temp_days_full, 7), (uwl06c, temp_days_half, 4.5)]
for name, color, (values, days, width) in zip(names[8:], colors[8:], temp_series):
    fig.add_trace(go.Scatter(x=stamp(days), y=values, name=name, mode="lines", xaxis="x3", yaxis="y3",
                             line=dict(color=color, width=width)))

tick_times = pd.to_datetime(x_tick_labels, format="%d.%m.%y %H:%M")
x_range = [start_time, stamp(end_days)]
x_domain = [259.5 / W, 1829 / W]

fig.update_layout(
    width=W, height=H, margin=dict(l=0, r=0, t=0, b=0, autoexpand=False),
    paper_bgcolor="#ffffff", plot_bgcolor="rgba(0,0,0,0)", showlegend=False,
    shapes=shapes, annotations=notes,
    # whole page in pixels, for the window around the charts
    xaxis=dict(domain=[0, 1], range=[0, W], anchor="y", visible=False, fixedrange=True, automargin=False),
    yaxis=dict(domain=[0, 1], range=[H, 0], anchor="x", visible=False, fixedrange=True, automargin=False),
    xaxis2=dict(domain=x_domain, range=x_range, anchor="y2", showgrid=False, zeroline=False, automargin=False,
                showline=True, linecolor="#666666", linewidth=4, ticks="", showticklabels=False),
    yaxis2=dict(domain=[1 - 644 / H, 1 - 291 / H], range=[-4, 4], anchor="x2", tickmode="array", automargin=False,
                tickvals=settle_ticks, ticktext=settle_labels, showgrid=False, zeroline=False,
                showline=True, linecolor="#555555", linewidth=1.5, ticks="outside", ticklen=21, tickwidth=3,
                tickcolor="#777777", ticklabelstandoff=18,
                tickfont=dict(family=UI, size=30, color="#333333")),
    xaxis3=dict(domain=x_domain, range=x_range, anchor="y3", showgrid=False, zeroline=False, automargin=False,
                showline=True, linecolor="#999999", linewidth=5, ticks="outside", ticklen=21, tickwidth=3,
                tickcolor="#999999", tickmode="array", tickvals=tick_times, ticktext=x_tick_labels, tickangle=0,
                ticklabelstandoff=-4, tickfont=dict(family=UI, size=30, color="#333333")),
    yaxis3=dict(domain=[1 - 1064.5 / H, 1 - 712 / H], range=[-2, 20], anchor="x3", side="right", tickmode="array",
                automargin=False, tickvals=temp_ticks, ticktext=temp_labels, showgrid=False, zeroline=False,
                showline=True, linecolor="#999999", linewidth=4, ticks="outside", ticklen=20, tickwidth=3,
                tickcolor="#777777", ticklabelstandoff=24,
                tickfont=dict(family=UI, size=30, color="#333333")),
)

fig.write_html("out.html", config=dict(displayModeBar=False),
               post_script="document.body.style.margin='0';document.body.style.overflow='hidden';")
